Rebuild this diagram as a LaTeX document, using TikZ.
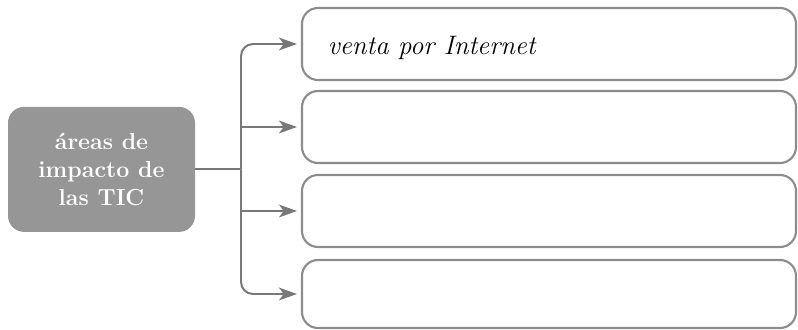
\documentclass[tikz,border=0pt]{standalone}
\usepackage{amsmath, amsfonts}
\usepackage{tikz}
\usetikzlibrary{arrows.meta, positioning}
\usetikzlibrary{calc}
\usepackage{xcolor}
\definecolor{boxgray}{RGB}{140,140,140}
\definecolor{fillgray}{RGB}{150,150,150}
\definecolor{linegray}{RGB}{120,120,120}

\begin{document}
\begin{tikzpicture}[
		areabox/.style={draw=boxgray, line width=1.5pt, rounded corners=0.4cm, minimum width=12.35cm, minimum height=1.8cm},
		mainbox/.style={fill=fillgray, rounded corners=0.4cm, minimum width=4.675cm, minimum height=3.125cm, text=white, align=center, font=\fontsize{16.5}{20}\selectfont\bfseries},
		arrline/.style={draw=linegray, line width=1.4pt, -{Stealth[length=0.45cm, width=0.32cm, inset=0.12cm]}, shorten >=0.1cm}
	]
				\useasboundingbox (0,0) rectangle (19.95,8.225);
				\node[mainbox] (tic) at (2.5375,3.99) {áreas de\\impacto de\\las TIC};
				\node[areabox] (b1) at (13.725,7.125) {};
				\node[areabox] (b2) at (13.725,5.05) {};
				\node[areabox] (b3) at (13.725,2.95) {};
				\node[areabox, minimum height=1.7cm] (b4) at (13.725,0.875) {};
				\node[anchor=west, font=\fontsize{19}{22}\selectfont\itshape] (txt) at ([xshift=0.55cm, yshift=-0.1cm]b1.west) {venta por Internet};
				\coordinate (hub) at (6.025,3.99);
				\draw[draw=linegray, line width=1.4pt] (tic.east) -- (hub);
				\draw[arrline, rounded corners=0.3cm] (hub) |- (b1.west);
				\draw[arrline, rounded corners=0.3cm] (hub) |- (b4.west);
				\draw[arrline] (hub |- b2.west) -- (b2.west);
				\draw[arrline] (hub |- b3.west) -- (b3.west);
			\end{tikzpicture}
\end{document}
